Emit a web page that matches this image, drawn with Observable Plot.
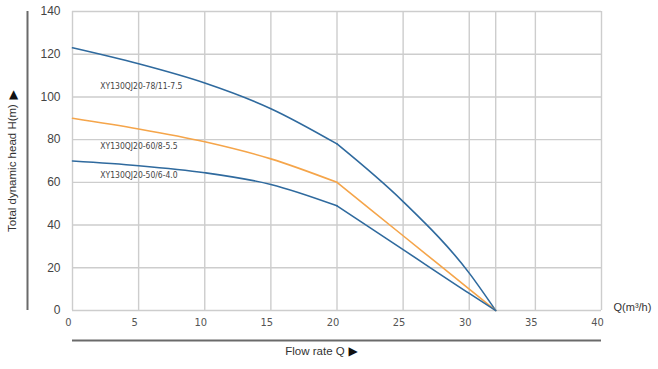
<!DOCTYPE html>
<html><head><meta charset="utf-8">
<script src="https://cdn.jsdelivr.net/npm/d3@7"></script>
<script src="https://cdn.jsdelivr.net/npm/@observablehq/plot@0.6"></script>
<style>body{margin:0;background:#fff}</style>
</head><body><div id="chart"></div>
<script>
const flow = [0, 5, 10, 15, 20, 25, 30, 32];
const head78 = [123, 115.5, 106.5, 94.5, 78, 51, 17.5, 0];
const head60 = [90, 85, 79, 71, 60, 35, 10, 0];
const head50 = [70, 67.8, 64.5, 59, 49, 28.5, 8, 0];
const seriesNames = ["XY130QJ20-78/11-7.5", "XY130QJ20-60/8-5.5", "XY130QJ20-50/6-4.0"];
const seriesColors = ["#2f6a9e", "#f5a54a", "#2f6a9e"];
const labelPos = [[2.1, 105], [2.1, 76.8], [2.1, 63.2]];
const xTicks = [0, 5, 10, 15, 20, 25, 30, 35, 40];
const yTicks = [0, 20, 40, 60, 80, 100, 120, 140];
const extraGridX = [32];

const heads = [head78, head60, head50];
const rows = [];
heads.forEach((h, i) => flow.forEach((q, j) => rows.push({q, h: h[j], s: seriesNames[i], c: seriesColors[i]})));
const left = rows.filter(d => d.q <= 20);
const right = rows.filter(d => d.q >= 20);
const labels = seriesNames.map((s, i) => ({s, x: labelPos[i][0], y: labelPos[i][1]}));

const chart = Plot.plot({
  width: 658, height: 369,
  marginLeft: 72, marginRight: 57, marginTop: 11, marginBottom: 59,
  style: {fontFamily: "Liberation Sans, Arial, sans-serif", background: "#fff"},
  x: {domain: [0, 40]},
  y: {domain: [0, 140]},
  marks: [
    Plot.gridX(xTicks.concat(extraGridX), {stroke: "#cdcdcd", strokeOpacity: 1, strokeWidth: 1.4}),
    Plot.gridY(yTicks, {stroke: "#cdcdcd", strokeOpacity: 1, strokeWidth: 1.4}),
    Plot.axisX(xTicks, {tickSize: 0, tickPadding: 8, dx: -4, fontSize: 11, fill: "#555", label: null, fontFamily: "DejaVu Sans Condensed, sans-serif"}),
    Plot.axisY(yTicks, {tickSize: 0, tickPadding: 12, fontSize: 12, fill: "#444", label: null}),
    Plot.line(left, {x: "q", y: "h", z: "s", stroke: "c", strokeWidth: 1.6, curve: "monotone-x"}),
    Plot.line(right, {x: "q", y: "h", z: "s", stroke: "c", strokeWidth: 1.6, curve: "monotone-x"}),
    Plot.text(labels, {x: "x", y: "y", text: "s", textAnchor: "start", fontSize: 8.5, fill: "#444", fontFamily: "DejaVu Sans Condensed, sans-serif"}),
    Plot.ruleY([0], {dy: 30, stroke: "#6a6a6a", strokeWidth: 2}),
    Plot.ruleX([0], {dx: -45, stroke: "#6a6a6a", strokeWidth: 2}),
    Plot.text(["Total dynamic head H(m)"], {frameAnchor: "left", textAnchor: "middle", rotate: -90, dx: -60, dy: 7, fontSize: 11.5, fill: "#333"}),
    Plot.text(["▲"], {frameAnchor: "left", textAnchor: "middle", dx: -59, dy: -67, fontSize: 12, fill: "#111", fontFamily: "DejaVu Sans, sans-serif"}),
    Plot.text(["Flow rate Q"], {frameAnchor: "bottom", textAnchor: "middle", dx: -22, dy: 44, fontSize: 11.5, fill: "#333"}),
    Plot.text(["▶"], {frameAnchor: "bottom", textAnchor: "middle", dx: 16, dy: 44, fontSize: 12, fill: "#111", fontFamily: "DejaVu Sans, sans-serif"}),
    Plot.text(["Q(m³/h)"], {x: [40], y: [0], textAnchor: "start", dx: 12, dy: -3, fontSize: 11, fill: "#333"})
  ]
});
document.getElementById("chart").append(chart);
</script></body></html>
